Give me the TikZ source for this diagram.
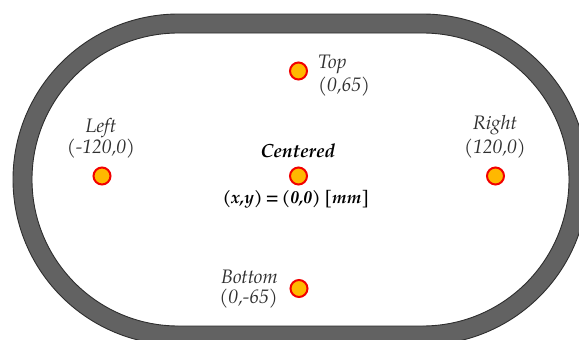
\documentclass[tikz,border=0pt]{standalone}
\usepackage{fontspec}
\setmainfont{texgyrepagella}[Extension=.otf, UprightFont=*-regular, ItalicFont=*-italic, BoldFont=*-bold, BoldItalicFont=*-bolditalic]
\definecolor{trackgray}{HTML}{626262}
\definecolor{trackedge}{HTML}{2E2E2E}
\definecolor{dotfill}{HTML}{FFB800}
\definecolor{dotline}{HTML}{F20000}
\definecolor{labelgray}{HTML}{303030}
\tikzset{
  pt/.style={circle, fill=dotfill, draw=dotline, line width=2pt, minimum size=17pt, inner sep=0pt},
  lbl/.style={inner sep=0pt, text=labelgray, font=\fontsize{19.5}{22}\selectfont\itshape},
  blbl/.style={inner sep=0pt, text=black, font=\fontsize{19}{22}\selectfont\bfseries\itshape},
}
\begin{document}
\begin{tikzpicture}[x=1pt,y=1pt]
\useasboundingbox (0,0) rectangle (579,-340);
\clip (0,0) rectangle (579,-340);
% track
\fill[trackgray, draw=trackedge, line width=0.9pt, even odd rule]
  (178.5,-14) -- (422.5,-14) arc[start angle=90,end angle=-90,radius=165.5]
  -- (178.5,-345) arc[start angle=270,end angle=90,radius=165.5] -- cycle
  (178.5,-33) -- (422.5,-33) arc[start angle=90,end angle=-90,radius=146.5]
  -- (178.5,-326) arc[start angle=270,end angle=90,radius=146.5] -- cycle;
% points
\node[pt] (c) at (298.5,-176) {};
\node[pt] (t) at (298.5,-71) {};
\node[pt] (l) at (102,-176) {};
\node[pt] (r) at (495.5,-176) {};
\node[pt] (b) at (299,-288.5) {};
% labels
\node[lbl, anchor=base west] (t1) at (318,-68) {Top};
\node[lbl, anchor=base west] (t2) at (318,-91) {(0,65)};
\node[lbl, anchor=base] (l1) at (101,-132) {Left};
\node[lbl, anchor=base] (l2) at (101,-153) {(-120,0)};
\node[lbl, anchor=base] (r1) at (495,-129) {Right};
\node[lbl, anchor=base] (r2) at (495,-153) {(120,0)};
\node[lbl, anchor=base east] (b1) at (278,-283) {Bottom};
\node[lbl, anchor=base east] (b2) at (278,-303) {(0,-65)};
\node[blbl, anchor=base] (c1) at (298,-157) {Centered};
\node[blbl, anchor=base, font=\fontsize{17.5}{22}\selectfont\bfseries\itshape] (c2) at (296,-203) {\spaceskip=3.5pt plus 1pt(x,y)\,=\,(0,0) [mm]};
\end{tikzpicture}
\end{document}
